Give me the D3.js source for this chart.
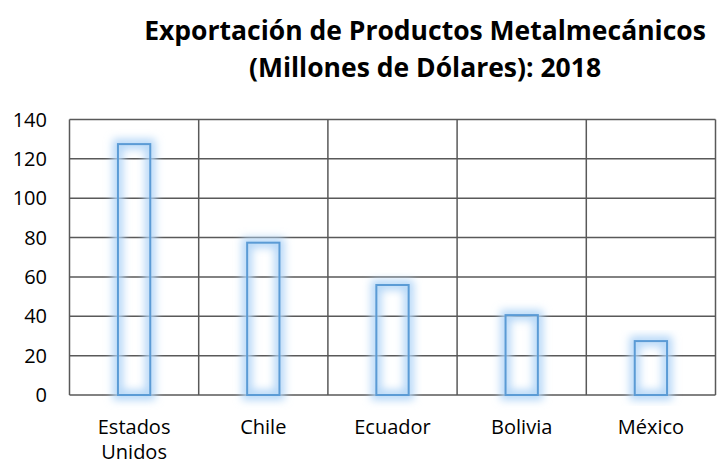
<!DOCTYPE html>
<html>
<head>
    <meta charset="utf-8">
    <title>Exportación de Productos Metalmecánicos</title>
    <script src="https://d3js.org/d3.v7.min.js"></script>
    <style>
        body { margin: 0; background: #fff; }
        text { font-family: "Open Sans", Lato, sans-serif; fill: #000; }
    </style>
</head>
<body>
    <div id="chart"></div>
    <script>
        const paises = ["Estados Unidos", "Chile", "Ecuador", "Bolivia", "México"];
        const valores = [127.5, 77.4, 55.9, 40.6, 27.4];
        const ticksY = [0, 20, 40, 60, 80, 100, 120, 140];
        const titulo = ["Exportación de Productos Metalmecánicos", "(Millones de Dólares): 2018"];

        const W = 717, H = 465;
        const m = { top: 119.5, right: 1.5, bottom: 70, left: 69.5 };

        const svg = d3.select("#chart").append("svg")
            .attr("width", W)
            .attr("height", H);

        // glow for the bars
        const defs = svg.append("defs");
        const f = defs.append("filter").attr("id", "glow")
            .attr("x", "-60%").attr("y", "-20%").attr("width", "220%").attr("height", "140%");
        f.append("feGaussianBlur").attr("in", "SourceGraphic").attr("stdDeviation", 4);

        const x = d3.scaleBand()
            .domain(paises)
            .range([m.left, W - m.right])
            .paddingInner(0)
            .paddingOuter(0);

        const y = d3.scaleLinear()
            .domain([0, 140])
            .range([H - m.bottom, m.top]);

        // gridlines
        const g = svg.append("g");
        g.selectAll("line.h").data(ticksY).enter().append("line")
            .attr("x1", m.left).attr("x2", W - m.right)
            .attr("y1", d => y(d)).attr("y2", d => y(d))
            .attr("stroke", "#595959").attr("stroke-width", 1.5);
        const bordes = paises.map(p => x(p)).concat([W - m.right]);
        g.selectAll("line.v").data(bordes).enter().append("line")
            .attr("x1", d => d).attr("x2", d => d)
            .attr("y1", y(0)).attr("y2", y(140))
            .attr("stroke", "#595959").attr("stroke-width", 1.5);

        const bw = x.bandwidth() * 0.25;

        // glow layer
        svg.append("g").selectAll("rect").data(valores).enter().append("rect")
            .attr("x", (d, i) => x(paises[i]) + x.bandwidth() / 2 - bw / 2)
            .attr("y", d => y(d))
            .attr("width", bw)
            .attr("height", d => y(0) - y(d))
            .attr("fill", "none")
            .attr("stroke", "#b3d6f7")
            .attr("stroke-width", 10)
            .attr("filter", "url(#glow)");

        svg.append("g").selectAll("rect").data(valores).enter().append("rect")
            .attr("x", (d, i) => x(paises[i]) + x.bandwidth() / 2 - bw / 2)
            .attr("y", d => y(d))
            .attr("width", bw)
            .attr("height", d => y(0) - y(d))
            .attr("fill", "none")
            .attr("stroke", "#5b9bd5")
            .attr("stroke-width", 2);

        // y axis labels
        svg.append("g").selectAll("text").data(ticksY).enter().append("text")
            .attr("x", 47)
            .attr("y", d => y(d))
            .attr("dy", "0.36em")
            .attr("text-anchor", "end")
            .attr("font-size", 20)
            .text(d => d);

        // x labels
        const xl = svg.append("g").selectAll("text").data(paises).enter().append("text")
            .attr("text-anchor", "middle")
            .attr("font-size", 20)
            .attr("x", d => x(d) + x.bandwidth() / 2)
            .attr("y", 434);
        xl.each(function(d) {
            const words = d === "Estados Unidos" ? ["Estados", "Unidos"] : [d];
            const t = d3.select(this);
            words.forEach((w, k) => {
                t.append("tspan")
                    .attr("x", x(d) + x.bandwidth() / 2)
                    .attr("dy", k === 0 ? 0 : 25)
                    .text(w);
            });
        });

        // title
        svg.append("g").selectAll("text").data(titulo).enter().append("text")
            .attr("x", 425)
            .attr("y", (d, i) => 40 + i * 37)
            .attr("text-anchor", "middle")
            .attr("font-size", 26.5)
            .attr("font-weight", "bold")
            .text(d => d);
    </script>
</body>
</html>
